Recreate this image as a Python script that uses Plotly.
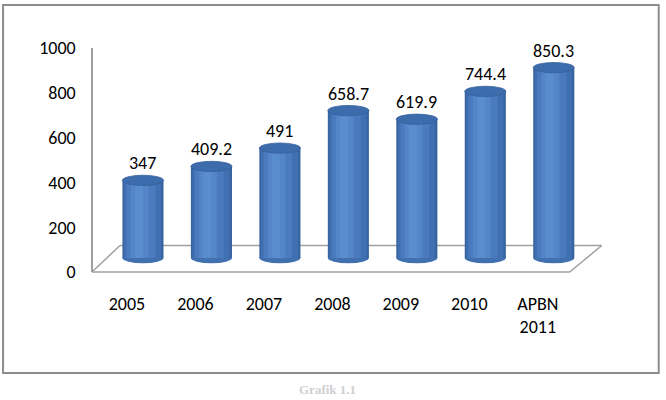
import plotly.graph_objects as go

# ---- data ----
categories = ["2005", "2006", "2007", "2008", "2009", "2010", "APBN<br>2011"]
values = [347, 409.2, 491, 658.7, 619.9, 744.4, 850.3]
value_labels = ["347", "409.2", "491", "658.7", "619.9", "744.4", "850.3"]
y_ticks = [0, 200, 400, 600, 800, 1000]

# ---- layout geometry (pixels) ----
FIG_W, FIG_H = 666, 400
L, R, T, B = 92, 77.75, 48, 128
W = FIG_W - L - R
H = FIG_H - T - B


def px(xp):
    return (xp - L) / W


def py(yp):
    return (FIG_H - B - yp) / H


FONT = "Carlito, Lato, Liberation Sans, sans-serif"
FS = 18
idx = list(range(len(categories)))
BW = 0.6

fig = go.Figure()

# cylinder body: overlaid bars to simulate the shading
shades = [
    (0.60, 0.00, "#3863A1"),
    (0.54, -0.005, "#4170B2"),
    (0.42, -0.03, "#4A7BBE"),
    (0.26, -0.05, "#5385C8"),
    (0.12, -0.06, "#5A8DCE"),
]
for w, sh, col in shades:
    fig.add_trace(go.Bar(
        x=idx, y=values, width=w, offset=-w / 2 + sh,
        marker=dict(color=col, line=dict(width=0)),
        xaxis="x", yaxis="y2", showlegend=False, hoverinfo="skip",
    ))

# invisible trace for the shifted category label axis
fig.add_trace(go.Scatter(
    x=idx, y=[0] * len(idx), mode="markers", marker=dict(opacity=0),
    xaxis="x2", yaxis="y", showlegend=False, hoverinfo="skip",
))

shapes = []
EH = 23  # ellipse half height in y2 units
for i, v in zip(idx, values):
    shapes.append(dict(type="circle", xref="x", yref="y2",
                       x0=i - BW / 2, x1=i + BW / 2, y0=-EH, y1=EH,
                       fillcolor="#4070B0", line=dict(width=0), layer="below"))
    shapes.append(dict(type="circle", xref="x", yref="y2",
                       x0=i - BW / 2, x1=i + BW / 2, y0=v - EH, y1=v + EH,
                       fillcolor="#3D6CAC", line=dict(color="#35609C", width=0.8),
                       layer="above"))

gray = "#A0A0A0"
floor = [((92, 272), (570, 272)), ((120, 245.5), (602, 245.5)),
         ((92, 272), (120, 245.5)), ((570, 272), (602, 245.5))]
for (x0, y0), (x1, y1) in floor:
    shapes.append(dict(type="line", xref="paper", yref="paper",
                       x0=px(x0), y0=py(y0), x1=px(x1), y1=py(y1),
                       line=dict(color=gray, width=1.5), layer="below"))

shapes.append(dict(type="rect", xref="paper", yref="paper",
                   x0=px(3), y0=py(5), x1=px(659), y1=py(373),
                   line=dict(color="#8C8C8C", width=2), fillcolor="rgba(0,0,0,0)",
                   layer="below"))

annotations = []
for i, v, t in zip(idx, values, value_labels):
    annotations.append(dict(x=i, y=v, xref="x", yref="y2", text=t,
                            showarrow=False, yanchor="middle", yshift=17,
                            font=dict(family=FONT, size=FS, color="#000000")))

# caption below the chart box
annotations.append(dict(x=px(328), y=py(399), xref="paper", yref="paper",
                        text="<b>Grafik 1.1</b>", showarrow=False, yanchor="bottom",
                        font=dict(family="Liberation Serif, serif", size=13, color="#D0D0D0")))

fig.update_layout(
    width=FIG_W, height=FIG_H,
    margin=dict(l=L, r=R, t=T, b=B),
    paper_bgcolor="white", plot_bgcolor="rgba(0,0,0,0)",
    barmode="overlay",
    showlegend=False,
    font=dict(family=FONT, size=FS, color="#000000"),
    xaxis=dict(domain=[px(108.75), 1], range=[-0.5, len(idx) - 0.5],
               visible=False, fixedrange=True),
    xaxis2=dict(domain=[px(92.75), px(572.25)], range=[-0.5, len(idx) - 0.5],
                anchor="y", tickmode="array", tickvals=idx, ticktext=categories,
                showline=False, showgrid=False, zeroline=False,
                ticks="outside", ticklen=15, tickcolor="rgba(0,0,0,0)",
                tickfont=dict(family=FONT, size=FS, color="#000000")),
    yaxis=dict(range=[0, 1000], tickvals=y_ticks, showgrid=False, zeroline=False,
               showline=True, linecolor=gray, linewidth=1.5,
               ticks="outside", ticklen=12, tickcolor="rgba(0,0,0,0)",
               tickfont=dict(family=FONT, size=FS, color="#000000"),
               anchor="free", position=0, fixedrange=True),
    yaxis2=dict(range=[-62, 938], overlaying="y", visible=False, fixedrange=True),
    shapes=shapes,
    annotations=annotations,
)

fig.write_html("out.html")
